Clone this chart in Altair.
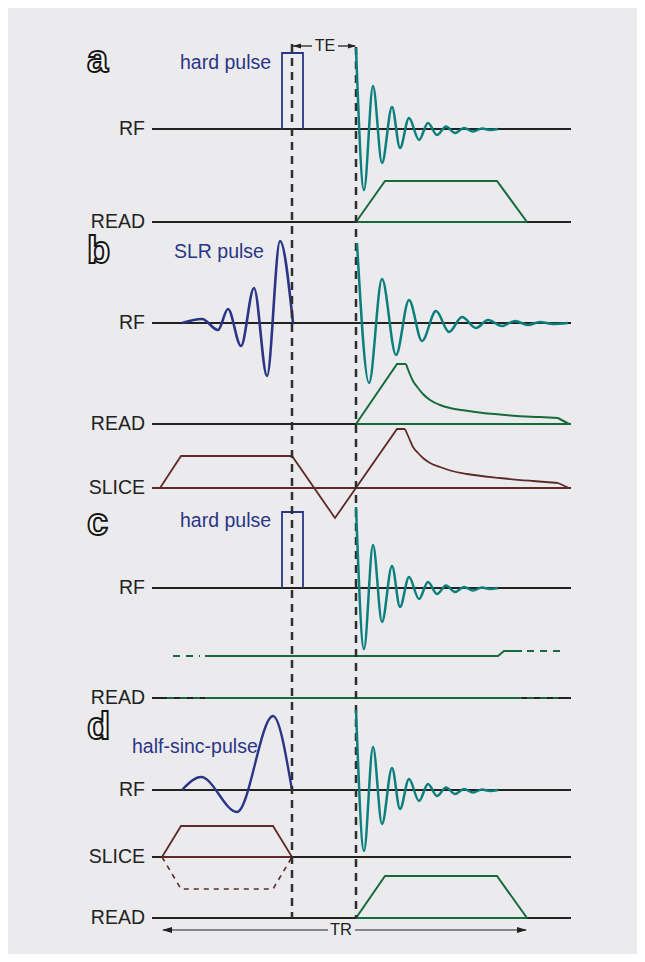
import altair as alt
import pandas as pd

# ---------------- canvas (page-pixel style units) ----------------
W, H = 629, 946
XD = [8, 8 + W]
YD = [8, 8 + H]

NAVY = "#2b3586"
TEAL = "#0b7f7d"
GREEN = "#176a3b"
BROWN = "#5e2a2a"
INK = "#222222"
DASHC = "#2e2e2e"
BG = "#ebebee"
FONT = "Liberation Sans"

# ---------------- row baselines (vertical level of each channel) ----------------
RF_A, READ_A = 129, 222
RF_B, READ_B, SLICE_B = 323, 424, 488
RF_C, READ_C = 588, 698
RF_D, SLICE_D, READ_D = 790, 857, 918
T_START, T_END = 152, 571
T_PULSE, T_ECHO = 292, 356

row_levels = [RF_A, READ_A, RF_B, READ_B, SLICE_B, RF_C, READ_C, RF_D, SLICE_D, READ_D]
row_names = ["RF", "READ", "RF", "READ", "SLICE", "RF", "READ", "RF", "SLICE", "READ"]

panel_letters = ["a", "b", "c", "d"]
panel_letter_levels = [72, 263, 535, 739]

# ---------------- RF waveforms ----------------
hard_t = [282, 282, 303, 303]
hard_a = [0, 76, 76, 0]

slr_t = [182, 202, 218, 228, 241, 254, 267, 280, 293]
slr_a = [0, 4, -7, 14, -23, 35, -53, 82, 0]

hsinc_t = [182, 201, 237, 273, 292]
hsinc_a = [0, 13, -22, 74, 0]

# FID (panels a, c, d)
fid_t = [356, 364, 373, 382, 392, 400, 409, 419, 428, 437, 446, 455, 464, 473, 482, 490, 498]
fid_a = [81, -61, 43, -34, 22, -19, 11, -11, 6, -6, 2.5, -4, 1, -2.5, 0.5, -1, 0]
# FID (panel b, slower decay)
fidb_t = [357, 369, 382, 396, 409, 422, 436, 449, 462, 476, 488, 502, 515, 528, 540, 553, 568]
fidb_a = [80, -60, 44, -32, 23, -18, 12, -9, 6, -5, 3, -3, 2, -2, 1, -1, 0]

# ---------------- gradients ----------------
read_trap_t = [356, 385, 497, 527]
read_trap_a = [0, 41, 41, 0]

readb_ramp_t = [356, 397, 406]
readb_ramp_a = [0, 60, 60]
readb_decay_t = [406, 409, 413, 418, 423, 430, 440, 450, 465, 483, 500, 517, 540, 558]
readb_decay_a = [60, 52, 43, 36, 30, 24, 19, 16, 13.5, 11, 9.5, 8, 7, 6]
readb_end_t = [558, 569]
readb_end_a = [6, 0]

sliceb_lin_t = [160, 181, 292, 335, 397, 405]
sliceb_lin_a = [0, 32, 32, -30, 59, 59]
sliceb_decay_t = [405, 409, 413, 418, 423, 430, 440, 452, 467, 500, 533, 558]
sliceb_decay_a = [59, 50, 41, 35, 30, 25, 21, 17, 14, 10, 7, 5]
sliceb_end_t = [558, 569]
sliceb_end_a = [5, 0]

readc_low = 42
readc_high = 47
readc_solid_t = [205, 498, 504, 522]
readc_solid_a = [readc_low, readc_low, readc_high, readc_high]
readc_dash_left_t = [173, 200]
readc_dash_right_t = [527, 560]

sliced_t = [162, 181, 273, 292]
sliced_a = [0, 31, 31, 0]
sliced_neg_a = [0, -32, -32, 0]

xs = alt.Scale(domain=XD, nice=False, zero=False)
ys = alt.Scale(domain=YD, nice=False, zero=False, reverse=True)


def enc(ch):
    return ch.encode(
        x=alt.X("t:Q", scale=xs, axis=None),
        y=alt.Y("y:Q", scale=ys, axis=None),
    )


def path(ts, amps, base, color, width=2.0, dash=None, interp="linear"):
    df = pd.DataFrame({"t": ts, "y": [base - a for a in amps], "i": list(range(len(ts)))})
    kw = dict(color=color, strokeWidth=width, interpolate=interp, strokeCap="butt", strokeJoin="miter")
    if dash:
        kw["strokeDash"] = dash
    return alt.Chart(df).mark_line(**kw).encode(
        x=alt.X("t:Q", scale=xs, axis=None),
        y=alt.Y("y:Q", scale=ys, axis=None),
        order=alt.Order("i:Q"),
    )


def vline(t, y0, y1, color, width=2.5, dash=None):
    df = pd.DataFrame({"t": [t, t], "y": [y0, y1], "i": [0, 1]})
    kw = dict(color=color, strokeWidth=width, strokeCap="butt")
    if dash:
        kw["strokeDash"] = dash
    return alt.Chart(df).mark_line(**kw).encode(
        x=alt.X("t:Q", scale=xs, axis=None),
        y=alt.Y("y:Q", scale=ys, axis=None),
        order=alt.Order("i:Q"),
    )


def text(t, y, s, size=19.5, color=INK, align="left", baseline="alphabetic", **extra):
    df = pd.DataFrame({"t": [t], "y": [y], "s": [s]})
    return enc(alt.Chart(df).mark_text(fontSize=size, font=FONT, color=color, align=align,
                                       baseline=baseline, **extra)).encode(text="s:N")


def arrowhead(t, y, direction, size):
    shape = "M-1,0L1,-0.6L1,0.6Z" if direction == "left" else "M1,0L-1,-0.6L-1,0.6Z"
    df = pd.DataFrame({"t": [t], "y": [y]})
    return enc(alt.Chart(df).mark_point(shape=shape, size=size, filled=True, color=INK, opacity=1))


layers = []

# baselines
for lvl, name in zip(row_levels, row_names):
    color = BROWN if (lvl == SLICE_B) else INK
    layers.append(path([T_START, T_END], [0, 0], lvl, color, 2.2))
    layers.append(text(145, lvl, name, align="right", baseline="middle"))

# panel letters (outlined)
for s, lvl in zip(panel_letters, panel_letter_levels):
    layers.append(text(87, lvl, s, size=38, fontWeight="bold", fill="#fafafa",
                       stroke="#151515", strokeWidth=1.9))

# ---------------- panel a ----------------
layers.append(path(hard_t, hard_a, RF_A, NAVY, 1.8))
layers.append(text(180, 69, "hard pulse", color=NAVY))
layers.append(path([T_ECHO, 527], [0, 0], READ_A, GREEN, 2.2))
layers.append(path(read_trap_t, read_trap_a, READ_A, GREEN, 2.0))

# ---------------- panel b ----------------
layers.append(path(slr_t, slr_a, RF_B, NAVY, 2.6, interp="monotone"))
layers.append(text(174, 258, "SLR pulse", color=NAVY))
layers.append(path([T_ECHO, T_END], [0, 0], READ_B, GREEN, 2.2))
layers.append(path(readb_ramp_t, readb_ramp_a, READ_B, GREEN, 2.0))
layers.append(path(readb_decay_t, readb_decay_a, READ_B, GREEN, 2.0, interp="monotone"))
layers.append(path(readb_end_t, readb_end_a, READ_B, GREEN, 2.0))
layers.append(path(sliceb_lin_t, sliceb_lin_a, SLICE_B, BROWN, 1.8))
layers.append(path(sliceb_decay_t, sliceb_decay_a, SLICE_B, BROWN, 1.8, interp="monotone"))
layers.append(path(sliceb_end_t, sliceb_end_a, SLICE_B, BROWN, 1.8))

# ---------------- panel c ----------------
layers.append(path(hard_t, hard_a, RF_C, NAVY, 1.8))
layers.append(text(180, 527, "hard pulse", color=NAVY))
layers.append(path(readc_solid_t, readc_solid_a, READ_C, GREEN, 2.0))
layers.append(path(readc_dash_left_t, [readc_low, readc_low], READ_C, GREEN, 2.0, dash=[7, 6]))
layers.append(path(readc_dash_right_t, [readc_high, readc_high], READ_C, GREEN, 2.0, dash=[7, 6]))
layers.append(path([205, 522], [0, 0], READ_C, GREEN, 2.2))
layers.append(path([167, 200], [0, 0], READ_C, GREEN, 2.2, dash=[7, 6]))
layers.append(path([527, 558], [0, 0], READ_C, GREEN, 2.2, dash=[7, 6]))

# ---------------- panel d ----------------
layers.append(path(hsinc_t, hsinc_a, RF_D, NAVY, 2.4, interp="monotone"))
layers.append(text(132, 753, "half-sinc-pulse", color=NAVY))
layers.append(path([162, 292], [0, 0], SLICE_D, BROWN, 2.2))
layers.append(path(sliced_t, sliced_a, SLICE_D, BROWN, 1.8))
layers.append(path(sliced_t, sliced_neg_a, SLICE_D, BROWN, 1.6, dash=[5, 5]))
layers.append(path([T_ECHO, 527], [0, 0], READ_D, GREEN, 2.2))
layers.append(path(read_trap_t, [0, 42, 42, 0], READ_D, GREEN, 2.0))

# ---------------- timing markers ----------------
layers.append(vline(T_PULSE, 44, 918, DASHC, 2.5, dash=[8, 6]))
layers.append(vline(T_ECHO, 47, 918, DASHC, 2.5, dash=[8, 6]))

# TE arrow
TE_Y = 46
layers.append(path([293, 312], [0, 0], TE_Y, INK, 1.3))
layers.append(path([338, 355], [0, 0], TE_Y, INK, 1.3))
layers.append(arrowhead(297, TE_Y, "left", 64))
layers.append(arrowhead(352, TE_Y, "right", 64))
layers.append(text(325, TE_Y, "TE", size=16, align="center", baseline="middle"))

# TR arrow
TR_Y = 930
layers.append(path([163, 328], [0, 0], TR_Y, INK, 1.2))
layers.append(path([355, 526], [0, 0], TR_Y, INK, 1.2))
layers.append(arrowhead(167, TR_Y, "left", 100))
layers.append(arrowhead(522, TR_Y, "right", 100))
layers.append(text(341, TR_Y, "TR", size=16.5, align="center", baseline="middle"))

# FIDs on top
layers.append(path(fid_t, fid_a, RF_A, TEAL, 2.5, interp="monotone"))
layers.append(path(fidb_t, fidb_a, RF_B, TEAL, 2.5, interp="monotone"))
layers.append(path(fid_t, fid_a, RF_C, TEAL, 2.5, interp="monotone"))
layers.append(path(fid_t, [a - (1 if i == 0 else 0) for i, a in enumerate(fid_a)], RF_D, TEAL, 2.5,
                   interp="monotone"))

chart = alt.layer(*layers).properties(
    width=W, height=H, background=BG, padding=0,
    autosize=alt.AutoSizeParams(type="none"),
).configure_view(stroke=None)

chart.save("out.html", embed_options={"renderer": "svg", "actions": False})
